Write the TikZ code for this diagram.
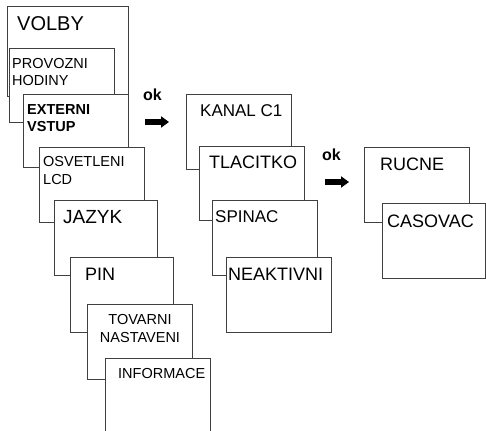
\documentclass[tikz,border=0pt]{standalone}
\usepackage{fontspec}
\setmainfont{Liberation Sans}
\usetikzlibrary{arrows.meta}
\begin{document}
\begin{tikzpicture}[x=1pt,y=-1pt,
  menubox/.style={draw=black!75,line width=0.9pt,fill=white},
  big/.style={anchor=base west,inner sep=0pt,font=\fontsize{18}{18}\selectfont},
  small/.style={anchor=base west,inner sep=0pt,align=left,font=\fontsize{14.5}{17.5}\selectfont},
  oklabel/.style={anchor=base west,inner sep=0pt,font=\fontsize{16}{16}\selectfont\bfseries},
  okarrow/.style={line width=6pt,-{Triangle[length=8pt,width=11pt]}}]
\useasboundingbox (0,0) rectangle (486,430);
\clip (0,0) rectangle (486,430);

% main menu column (two-line labels are anchored at their last baseline)
\path[menubox] (7,6) rectangle (128,96);
\node[big,font=\fontsize{20}{20}\selectfont] (volby) at (17,31) {VOLBY};
\path[menubox] (9,48) rectangle (114,122);
\node[small] (provozni) at (12,86) {PROVOZNI\\HODINY};
\path[menubox] (23,94) rectangle (128,167);
\node[small,font=\fontsize{14.5}{17.5}\selectfont\bfseries] (externi) at (27,132) {EXTERNI\\VSTUP};
\path[menubox] (39,147) rectangle (144,222);
\node[small] (osvetleni) at (43,184) {OSVETLENI\\LCD};
\path[menubox] (54,200) rectangle (157,275);
\node[big,font=\fontsize{19}{19}\selectfont] (jazyk) at (63,223) {JAZYK};
\path[menubox] (70,257) rectangle (173,332);
\node[big] (pin) at (85,280) {PIN};
\path[menubox] (87,304) rectangle (192,379);
\node[small,align=center,anchor=base] (tovarni) at (140,342) {TOVARNI\\NASTAVENI};
\path[menubox] (105,358) rectangle (210,440);
\node[small] (informace) at (118,378) {INFORMACE};

% first confirmation step
\node[oklabel] (ok1) at (143,101) {ok};
\coordinate (a1s) at (145,122);
\coordinate (a1e) at (169,122);
\draw[okarrow] (a1s) -- (a1e);

% external input submenu
\path[menubox] (186,94) rectangle (291,169);
\node[big,font=\fontsize{17}{17}\selectfont] (kanal) at (200,117) {KANAL C1};
\path[menubox] (199,146) rectangle (304,220);
\node[big] (tlacitko) at (209,168) {TLACITKO};
\path[menubox] (212,200) rectangle (317,275);
\node[big,font=\fontsize{17}{17}\selectfont] (spinac) at (215,222) {SPINAC};
\path[menubox] (226,257) rectangle (331,332);
\node[big] (neaktivni) at (228,280) {NEAKTIVNI};

% second confirmation step
\node[oklabel] (ok2) at (322,161) {ok};
\coordinate (a2s) at (325,182);
\coordinate (a2e) at (349,182);
\draw[okarrow] (a2s) -- (a2e);

% button mode submenu
\path[menubox] (364,147) rectangle (469,222);
\node[big] (rucne) at (380,171) {RUCNE};
\path[menubox] (382,203) rectangle (485.5,278);
\node[big] (casovac) at (387,227) {CASOVAC};
\end{tikzpicture}
\end{document}
